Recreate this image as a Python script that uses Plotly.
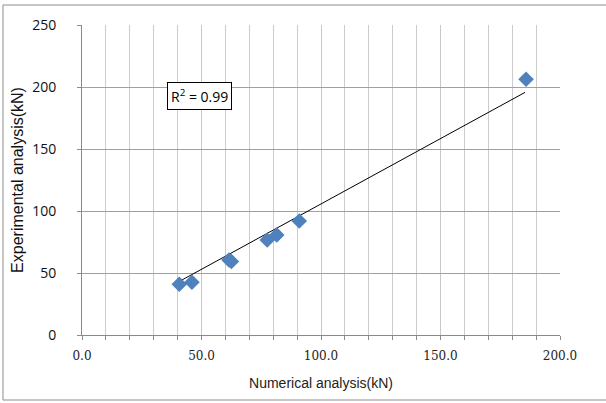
import plotly.graph_objects as go

numerical = [40.7, 46.0, 61.5, 62.5, 77.5, 81.5, 90.9, 185.8]
experimental = [40.9, 42.5, 60.5, 59.3, 76.6, 80.6, 91.9, 206.2]
trend_x = [41.0, 185.4]
trend_y = [43.5, 195.7]
r2_label = "R<sup>2</sup> = 0.99"
x_ticks = [0, 50, 100, 150, 200]
x_ticktext = ["0.0", "50.0", "100.0", "150.0", "200.0"]

fig = go.Figure()
fig.add_trace(go.Scatter(x=trend_x, y=trend_y, mode="lines", line=dict(color="black", width=1), showlegend=False))
fig.add_trace(go.Scatter(x=numerical, y=experimental, mode="markers",
                         marker=dict(symbol="diamond", size=12, color="#4F81BD"), showlegend=False))

L, R, T, B = 82, 46, 25, 68
W, H = 606, 403
pw, ph = W - L - R, H - T - B

def px(x):
    return (x - L) / pw

def py(y):
    return (H - B - y) / ph

fig.add_shape(type="rect", xref="paper", yref="paper", x0=px(3), x1=px(612), y0=py(400), y1=py(5),
              line=dict(color="#8c8c8c", width=1), layer="below")

fig.add_annotation(xref="x", yref="y", x=35.6, y=193, text=r2_label, showarrow=False, xanchor="left",
                   font=dict(family="Open Sans, Liberation Sans", size=14, color="black"),
                   bordercolor="black", borderwidth=1, borderpad=3, bgcolor="white")

xtickfont = dict(family="DejaVu Serif, Liberation Serif", size=12, color="#222")
ytickfont = dict(family="Open Sans, Liberation Sans", size=14, color="#111")
fig.update_xaxes(range=[0, 200], tickvals=x_ticks, ticktext=x_ticktext,
                 showgrid=True, gridcolor="#c8c8c8", zeroline=False, showline=True, linecolor="#8a8a8a",
                 ticks="outside", ticklen=4, tickcolor="#8a8a8a", tickfont=xtickfont, ticklabelstandoff=6,
                 minor=dict(dtick=10, showgrid=True, gridcolor="#cccccc", ticks="outside", ticklen=4, tickcolor="#8a8a8a"),
                 title=dict(text="Numerical analysis(kN)", font=dict(family="Liberation Sans, Arial", size=14, color="#222"), standoff=15))
fig.update_yaxes(range=[0, 250], dtick=50, showgrid=True, gridcolor="#a0a0a0", gridwidth=1,
                 zeroline=False, showline=True, linecolor="#8a8a8a",
                 ticks="outside", ticklen=4, tickcolor="#8a8a8a", tickfont=ytickfont, ticklabelstandoff=18,
                 title=dict(text="Experimental analysis(kN)", font=dict(family="Liberation Sans, Arial", size=16, color="#111"), standoff=4))

fig.update_layout(width=W, height=H, margin=dict(l=L, r=R, t=T, b=B, autoexpand=False),
                  plot_bgcolor="white", paper_bgcolor="white")
fig.write_html("out.html", config={"displayModeBar": False},
               post_script="document.body.style.margin='0px';")
